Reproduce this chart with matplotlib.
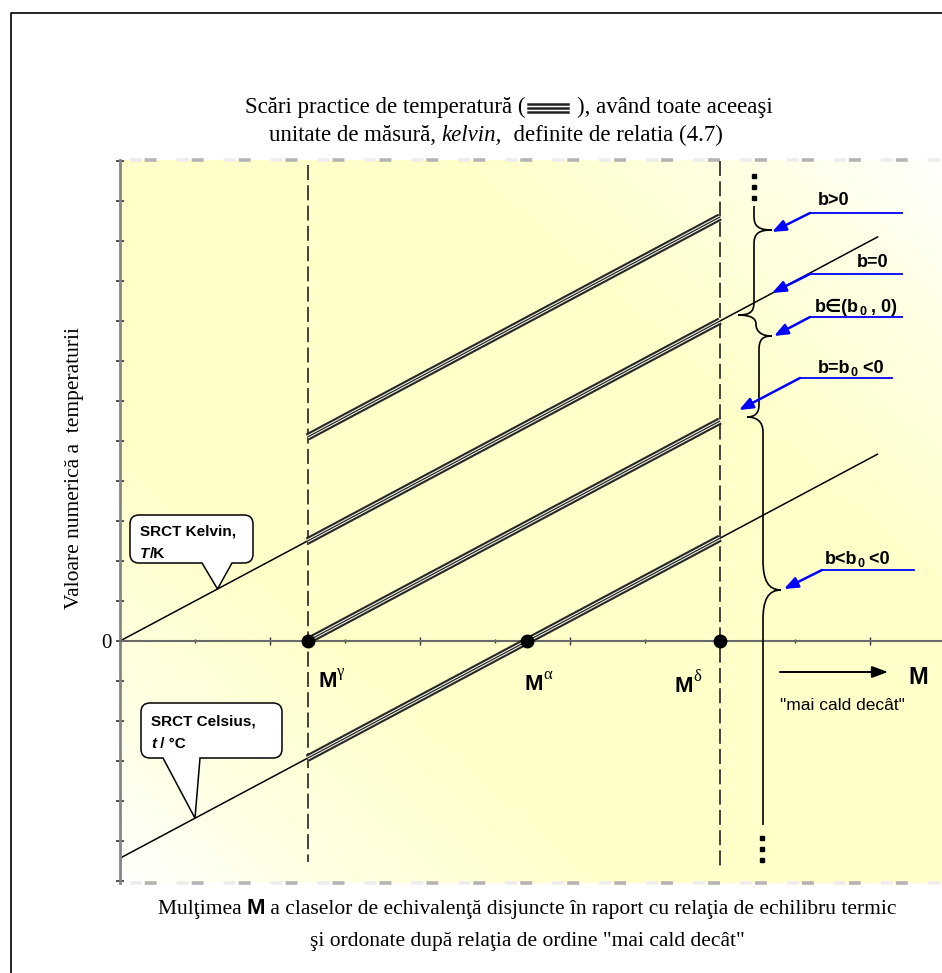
import numpy as np
import matplotlib
matplotlib.use("Agg")
import matplotlib.pyplot as plt
from matplotlib.path import Path
from matplotlib.patches import PathPatch, FancyArrowPatch
from matplotlib.lines import Line2D
from matplotlib import transforms as mtransforms

W, H = 942, 973

# ---- data (axis units) ----
line_x = [0.0, 10.1]                      # SRCT Kelvin / Celsius extent
kelvin_offset = 0.0
celsius_offset = -5.43
practical_x = [2.5, 8.0]                  # practical scales live between M^gamma and M^delta
practical_offsets = [2.6, 0.0, -2.5, -5.43]
m_names = ["γ", "α", "δ"]
m_x = [2.5, 5.43, 8.0]
vline_x = [2.5, 8.0]
vline_top = [11.9, 12.0]
vline_bot = [-5.52, -5.72]
y_ticks = list(range(-6, 13))
x_major = [0, 2, 4, 6, 8, 10]
x_minor = [1, 3, 5, 7, 9]

b_labels = [
    [("b>0", 0)],
    [("b=0", 0)],
    [("b∈(b", 0), ("0", 1), (" , 0)", 0)],
    [("b=b", 0), ("0", 1), (" <0", 0)],
    [("b<b", 0), ("0", 1), (" <0", 0)],
]

plt.rcParams["lines.scale_dashes"] = False
SERIF = ["Liberation Serif", "DejaVu Serif"]
SANS = ["Liberation Sans", "DejaVu Sans"]

fig = plt.figure(figsize=(W / 100, H / 100), dpi=100)
# pixel coords, origin top-left
P = mtransforms.Affine2D().scale(1 / W, -1 / H).translate(0, 1) + fig.transFigure

X0, Y0, SX, SY = 120, 641, 75, 40
def d2p(x, y):
    return X0 + SX * x, Y0 - SY * y

ax = fig.add_axes([X0 / W, 1 - 883 / H, (W - X0) / W, (883 - 160) / H])
xmax = (W - X0) / SX
ymax = (Y0 - 160) / SY
ymin = -(883 - Y0) / SY

# background gradient
nx, ny = 300, 300
gx, gy = np.meshgrid(np.linspace(0, 1, nx), np.linspace(0, 1, ny))
f = np.clip((1 - np.abs(gx - gy)) / 0.6, 0, 1) ** 0.8
img = np.ones((ny, nx, 3))
img[..., 2] = 1 - 0.21 * f
ax.imshow(img, extent=[0, xmax, ymin, ymax], origin="upper", aspect="auto",
          zorder=0, interpolation="bilinear")

# SRCT lines
lx = np.array(line_x)
ax.plot(lx, lx + kelvin_offset, color="black", lw=1.1, zorder=2)
ax.plot(lx, lx + celsius_offset, color="black", lw=1.1, zorder=2)

# practical scales (triple line)
px_ = np.array(practical_x)
for off in practical_offsets:
    ax.plot(px_, px_ + off, color="#262626", lw=5.4, solid_capstyle="butt", zorder=3)
    ax.plot(px_, px_ + off, color="#f6f6e6", lw=2.4, solid_capstyle="butt", zorder=3)
    ax.plot(px_, px_ + off, color="#262626", lw=0.9, solid_capstyle="butt", zorder=3)

for xv, yt, yb in zip(vline_x, vline_top, vline_bot):
    ax.plot([xv, xv], [yt, yb], color="#222222", lw=1.2, ls=(0, (10.8, 3.8)),
            zorder=2, clip_on=False)

ax.plot(m_x, [0] * len(m_x), "o", color="black", ms=9, zorder=5, clip_on=False)

# boundary dashed lines (top / bottom)
for yv in (ymax, ymin):
    ax.plot([0, xmax], [yv, yv], color="#ededed", lw=2.6, ls=(-7, (8.6, 25.2)),
            zorder=1, clip_on=False)
    ax.plot([0, xmax], [yv, yv], color="#b4b4b4", lw=2.6, ls=(16, (8.6, 25.2)),
            zorder=1, clip_on=False)

ax.set_xlim(0, xmax)
ax.set_ylim(ymin, ymax)
for s in ("top", "right"):
    ax.spines[s].set_visible(False)
ax.spines["bottom"].set_position(("data", 0))
ax.spines["bottom"].set_color("#6a6a6a")
ax.spines["bottom"].set_linewidth(1.5)
ax.spines["left"].set_color("#858585")
ax.spines["left"].set_linewidth(2)
ax.set_yticks(y_ticks)
ax.set_yticklabels(["0" if v == 0 else "" for v in y_ticks])
ax.tick_params(axis="y", direction="inout", length=6, width=1.2, color="#333333",
               labelsize=15, pad=3)
for lbl in ax.get_yticklabels():
    lbl.set_family(SERIF)
ax.set_xticks(x_major)
ax.set_xticks(x_minor, minor=True)
ax.tick_params(axis="x", which="major", direction="inout", length=5.5, width=1,
               color="#333333", labelbottom=False)
ax.tick_params(axis="x", which="minor", direction="inout", length=3.5, width=1,
               color="#333333")

# frame around the whole picture
fig.add_artist(Line2D([11, 11, W], [H, 13, 13], transform=P, color="black", lw=1.2))

renderer = fig.canvas.get_renderer()

def rich(pieces, x, y, ha="center"):
    ts = []
    for s, kw in pieces:
        kw = dict(kw)
        dy = kw.pop("dy", 0)
        t = fig.text(0, 0, s, transform=P, ha="left", va="baseline", zorder=7, **kw)
        ts.append((t, dy))
    ws = [t.get_window_extent(renderer).width for t, _ in ts]
    x0 = x - sum(ws) / 2 if ha == "center" else x
    for (t, dy), w in zip(ts, ws):
        t.set_position((x0, y - dy))
        x0 += w
    return [t for t, _ in ts]

ttl = dict(family=SERIF, size=16.5)
ttl_i = dict(family=SERIF, size=16.5, style="italic")
ser = dict(family=SERIF, size=15.5)
bold_m = dict(family=SANS, size=16, weight="bold")

# title
tt = rich([("Scări practice de temperatură (", ttl), ("         ", ttl),
           ("), având toate aceeaşi", ttl)], 509, 113)
bb = tt[1].get_window_extent(renderer)
gx0 = bb.x0 + 2
for gyv in (103.5, 107.5, 111.5):
    fig.add_artist(Line2D([gx0, gx0 + 40], [gyv, gyv], transform=P,
                          color="#222222", lw=1.8))
rich([("unitate de măsură, ", ttl), ("kelvin,", ttl_i),
      ("  definite de relatia (4.7)", ttl)], 496, 141)

# bottom caption
rich([("Mulţimea ", ser), ("M", bold_m),
      (" a claselor de echivalenţă disjuncte în raport cu relaţia de echilibru termic", ser)],
     527, 914)
rich([('şi ordonate după relaţia de ordine "mai cald decât"', ser)], 527, 946)

fig.text(75, 468, "Valoare numerică a  temperaturii", transform=P, rotation=90,
         ha="center", va="center", family=SERIF, size=15.5)

# M labels on the axis
m_dx = [0.14, -0.03, -0.6]
m_base = [-1.15, -1.22, -1.27]
for name, xv, dx, yb in zip(m_names, m_x, m_dx, m_base):
    px, py = d2p(xv + dx, yb)
    rich([("M", bold_m), (name, dict(family=SERIF, size=12, dy=11))], px, py, ha="left")

# callouts
def callout(x0, y0, x1, y1, t0, tip, t1, r=9):
    v = [(x0 + r, y0), (x1 - r, y0), (x1, y0), (x1, y0 + r), (x1, y1 - r), (x1, y1),
         (x1 - r, y1), (t1, y1), tip, (t0, y1), (x0 + r, y1), (x0, y1), (x0, y1 - r),
         (x0, y0 + r), (x0, y0), (x0 + r, y0), (x0 + r, y0)]
    c = [Path.MOVETO, Path.LINETO, Path.CURVE3, Path.CURVE3, Path.LINETO, Path.CURVE3,
         Path.CURVE3, Path.LINETO, Path.LINETO, Path.LINETO, Path.LINETO, Path.CURVE3,
         Path.CURVE3, Path.LINETO, Path.CURVE3, Path.CURVE3, Path.CLOSEPOLY]
    fig.add_artist(PathPatch(Path(v, c), transform=P, facecolor="white",
                             edgecolor="black", lw=1.1, zorder=6))

sb = dict(family=SANS, size=11, weight="bold")
sbi = dict(family=SANS, size=11, weight="bold", style="italic")
callout(130, 515, 253, 563, 202, d2p(1.3, 1.3 + kelvin_offset), 232)
rich([("SRCT Kelvin,", sb)], 140, 535, ha="left")
rich([("T", sbi), ("/K", sb)], 140, 558, ha="left")
callout(141, 703, 282, 758, 163, d2p(1.0, 1.0 + celsius_offset), 200)
rich([("SRCT Celsius,", sb)], 151, 725, ha="left")
rich([("t", sbi), (" / °C", sb)], 151, 748, ha="left")

# braces on the right
verts, codes = [], []
def M(p):
    verts.append(p); codes.append(Path.MOVETO)
def L(p):
    verts.append(p); codes.append(Path.LINETO)
def C(a, b, p):
    verts.extend([a, b, p]); codes.extend([Path.CURVE4] * 3)

M((754, 206)); L((754, 216))
C((754, 226), (758, 230), (772, 230))
C((758, 230), (754, 234), (754, 244))
L((754, 302))
C((754, 312), (750, 315), (738, 315))
C((750, 315), (756, 318), (756, 324))
C((756, 332), (762, 336), (772, 336))
C((762, 336), (759, 340), (759, 350))
L((759, 405))
C((759, 414), (754, 417), (747, 417))
C((756, 417), (763, 421), (763, 432))
L((763, 560))
C((763, 580), (768, 590), (781, 590))
C((768, 590), (763, 600), (763, 620))
L((763, 825))
fig.add_artist(PathPatch(Path(verts, codes), transform=P, facecolor="none",
                         edgecolor="black", lw=1.2, zorder=6))
for xd, ys in ((754, (176, 187, 198)), (762, (838, 849, 860))):
    fig.add_artist(Line2D([xd] * 3, ys, transform=P, ls="", marker="s", ms=2.6,
                          color="black", zorder=6))

# blue pointer labels
b_lines = [(810, 902, 213), (810, 902, 274), (810, 902, 317), (800, 892, 378), (822, 914, 570)]
b_targets = [(772, 232), (772, 293), (774, 336), (739, 410), (784, 589)]
b_text = [(818, 205), (857, 267), (815, 312), (818, 373), (825, 564)]
lab = dict(family=SANS, size=13, weight="bold")
sub = dict(family=SANS, size=9, weight="bold")
for pieces, (lx0, lx1, ly), tgt, (tx, ty) in zip(b_labels, b_lines, b_targets, b_text):
    fig.add_artist(Line2D([lx0, lx1], [ly, ly], transform=P, color="#0000ff", lw=1.3, zorder=6))
    fig.add_artist(FancyArrowPatch((lx0, ly), tgt, transform=P, color="#0000ff", lw=1.8,
                                   arrowstyle="-|>,head_length=0.55,head_width=0.22",
                                   mutation_scale=15, shrinkA=0, shrinkB=0, zorder=6))
    parts = []
    for s, is_sub in pieces:
        parts.append((s, dict(sub, dy=-3) if is_sub else lab))
    rich(parts, tx, ty, ha="left")

# ordering arrow
fig.add_artist(FancyArrowPatch((780, 672), (888, 672), transform=P, color="black", lw=1.4,
                               arrowstyle="-|>,head_length=0.6,head_width=0.22",
                               mutation_scale=16, shrinkA=0, shrinkB=0, zorder=6))
fig.text(918, 678, "M", transform=P, ha="center", va="center", family=SANS, size=17,
         weight="bold")
fig.text(842, 705, '"mai cald decât"', transform=P, ha="center", va="center",
         family=SANS, size=12.5)

fig.savefig("out.png", dpi=100)
